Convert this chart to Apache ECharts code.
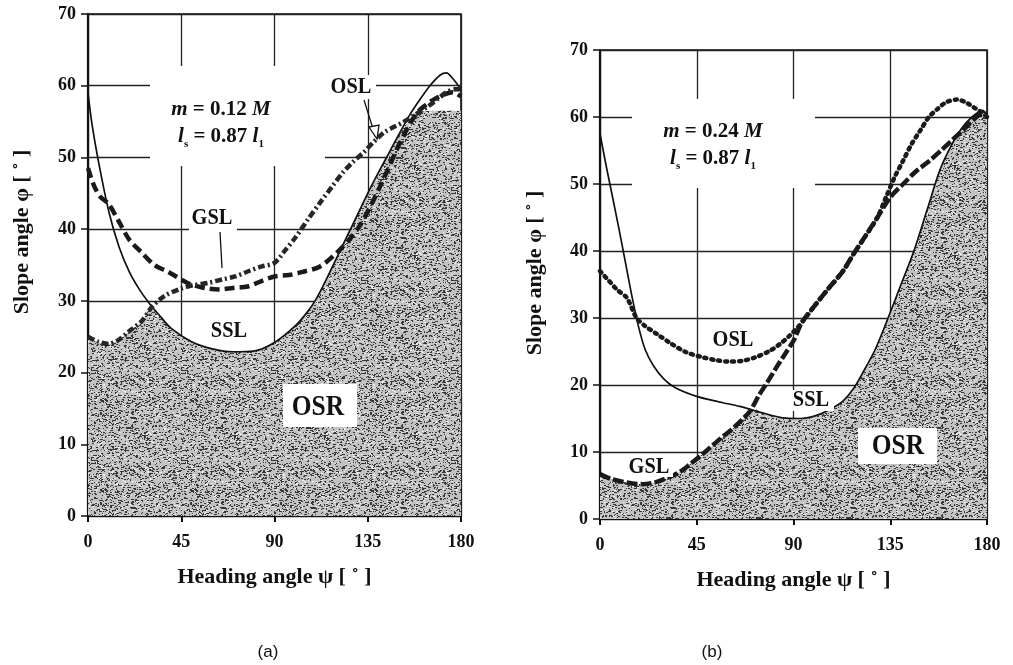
<!doctype html>
<html>
<head>
<meta charset="utf-8">
<title>Slope angle vs heading angle</title>
<script src="https://cdn.jsdelivr.net/npm/echarts/dist/echarts.min.js"></script>
<style>
  html, body { margin: 0; padding: 0; background: #fff; }
  #main { width: 1013px; height: 665px; }
</style>
</head>
<body>
<div id="main"></div>
<script>
// tick labels
var xTicks = [0, 45, 90, 135, 180];
var yTicks = [0, 10, 20, 30, 40, 50, 60, 70];

// (a) m = 0.12 M
var sslA = [[0,59],[2,54.5],[5,49.5],[10,42.5],[15,37.5],[20,34],[25,31.5],[30,29.5],[35,27.8],[40,26.2],[50,24.3],[60,23.3],[70,22.9],[80,23],[90,24.2],[100,26.5],[106,28.5],[110,30.2],[115,33],[120,36],[125,39],[130,42],[135,45],[140,47.8],[145,50.5],[150,53.2],[155,55.8],[160,58],[165,60],[170,61.5],[173,61.8],[176,61],[180,59.5]];
var gslA = [[0,48.5],[3,46],[6,44.5],[10,43.5],[15,41],[20,38.5],[26,36.7],[32,35],[39,34],[48,32.5],[56,31.8],[63,31.6],[70,31.8],[77,32],[84,32.8],[90,33.4],[97,33.6],[103,34],[112,34.8],[120,36.7],[126,38.5],[131,40.4],[136,43],[141,46],[145,48.5],[149,51.1],[154,54],[159,56.3],[163,57.3],[167,58.1],[172,58.8],[176,59.1],[180,58.5]];
var oslA = [[0,25],[5,24.3],[10,24],[15,24.6],[20,25.8],[26,27.2],[31,29.2],[37,30.7],[44,31.6],[51,32.2],[58,32.5],[65,33],[71,33.4],[78,34.2],[84,34.8],[90,35.3],[95,37],[100,38.8],[106,41.3],[112,43.7],[118,46],[123,47.9],[128,49.4],[133,50.7],[138,52.2],[143,53.5],[148,54.3],[152,54.9],[158,56],[164,57.1],[169,58.2],[173,59.1],[177,59.5],[180,59.5]];
var osrA = [[0,25],[5,24.3],[10,24],[15,24.6],[20,25.8],[26,27.2],[30,28.8],[33,28.4],[35,27.8],[40,26.2],[50,24.3],[60,23.3],[70,22.9],[80,23],[90,24.2],[100,26.5],[106,28.5],[110,30.2],[115,33],[120,36],[125,39],[130,42],[135,45],[140,47.8],[145,50.5],[150,53],[155,55.3],[160,56.3],[170,56.5],[180,56.5]];

// (b) m = 0.24 M
var sslB = [[0,57.5],[3,52.5],[6,47.8],[9,43],[12,38],[15,33],[18,28.6],[21,25.3],[25,22.8],[30,20.8],[35,19.6],[45,18.3],[55,17.5],[65,16.8],[75,15.9],[85,15.1],[93,15],[100,15.4],[106,16.2],[113,17.6],[118,19.5],[122,21.7],[128,25.3],[134,30],[140,35],[146,40],[152,46],[158,52],[163,55.5],[168,58.2],[173,60],[178,61],[180,60]];
var gslB = [[0,6.7],[5,6],[10,5.6],[15,5.3],[20,5.2],[26,5.5],[31,6.1],[37,7],[42,8.2],[47,9.5],[51,10.6],[56,12],[61,13.3],[66,14.8],[70,16.2],[74,18.5],[78,20.5],[82,22.6],[86,24.6],[90,26.6],[94,29.4],[100,31.9],[106,34.3],[113,37],[118,39.6],[123,42],[129,45],[135,48],[141,50],[147,51.9],[153,53.4],[159,55.1],[164,56.6],[170,58.4],[176,60.2],[180,60.5]];
var oslB = [[0,37],[4,35.6],[8,34.2],[12.5,33],[17,30],[21,28.8],[26.5,27.6],[33,26.2],[40,24.9],[47,24.2],[54,23.7],[60,23.5],[66,23.6],[72,24.1],[79,25.1],[84,26.2],[88,27.3],[92,28.6],[96,30.2],[100,31.9],[106,34.3],[113,37],[118,39.6],[123,42],[129,45],[133,48],[137,51],[141,53.5],[145,56],[149,58],[153,60],[157,61.2],[161,62.2],[166,62.6],[170,62.2],[174,61.4],[177,60.8],[180,60]];
var osrB = [[0,6.7],[5,6],[10,5.6],[15,5.3],[20,5.2],[26,5.5],[31,6.1],[37,7],[42,8.2],[47,9.5],[51,10.6],[56,12],[61,13.3],[66,14.8],[69,15.9],[72,16.4],[75,15.9],[85,15.1],[93,15],[100,15.4],[106,16.2],[113,17.6],[118,19.5],[122,21.7],[128,25.3],[134,30],[140,35],[146,40],[152,46],[158,52],[163,55.5],[168,58.2],[173,60],[178,61],[180,60]];

var SERIF = "'Liberation Serif', 'DejaVu Serif', serif";

// stipple texture for the OSR region
function makeStipple() {
    var c = document.createElement('canvas');
    c.width = c.height = 90;
    var g = c.getContext('2d');
    g.fillStyle = '#c2c2c2';
    g.fillRect(0, 0, 90, 90);
    var s = 12345;
    function next() { s = (s * 16807) % 2147483647; return s; }
    g.fillStyle = '#383838';
    for (var i = 0; i < 1600; i++) {
        g.fillRect(next() % 90, next() % 90, 1 + next() % 2, 1);
    }
    g.fillStyle = '#ececec';
    for (var j = 0; j < 500; j++) {
        g.fillRect(next() % 90, next() % 90, 1 + next() % 2, 1);
    }
    return c;
}
var stipple = makeStipple();

var chart = echarts.init(document.getElementById('main'), null, { renderer: 'canvas' });

function xAxisOf(idx) {
    return {
        gridIndex: idx, type: 'value', min: 0, max: 180, interval: 45,
        name: 'Heading angle ψ [ ˚ ]', nameLocation: 'middle', nameGap: 50,
        nameTextStyle: { fontFamily: SERIF, fontWeight: 'bold', fontSize: 22, color: '#111' },
        axisLine: { lineStyle: { color: '#111', width: 2.2 } },
        axisTick: { show: true, length: 6, lineStyle: { color: '#111', width: 2 } },
        axisLabel: { margin: 17, fontFamily: SERIF, fontWeight: 'bold', fontSize: 18, color: '#111' },
        splitLine: { show: true, lineStyle: { color: '#222', width: 1.3 } }
    };
}
function yAxisOf(idx) {
    return {
        gridIndex: idx, type: 'value', min: 0, max: 70, interval: 10,
        axisLine: { lineStyle: { color: '#111', width: 2.2 } },
        axisTick: { show: true, length: 7, lineStyle: { color: '#111', width: 1.5 } },
        axisLabel: { margin: 12, fontFamily: SERIF, fontWeight: 'bold', fontSize: 18, color: '#111' },
        splitLine: { show: true, lineStyle: { color: '#222', width: 1.3 } }
    };
}

function areaSeries(idx, data) {
    return {
        type: 'line', xAxisIndex: idx, yAxisIndex: idx, data: data,
        smooth: 0.3, symbol: 'none', z: 1, silent: true,
        lineStyle: { width: 0 },
        areaStyle: { color: { image: stipple, repeat: 'repeat' }, opacity: 1 }
    };
}
function lineSeries(idx, name, data, style) {
    return {
        type: 'line', name: name, xAxisIndex: idx, yAxisIndex: idx, data: data,
        smooth: 0.3, symbol: 'none', z: 3, lineStyle: style
    };
}

function label(text, x, y, size, box) {
    var els = [];
    if (box) {
        els.push({ type: 'rect', z: 50, shape: { x: box[0], y: box[1], width: box[2], height: box[3] }, style: { fill: '#fff' } });
    }
    els.push({
        type: 'text', z: 51, x: x, y: y, scaleX: 0.85,
        style: { text: text, fontFamily: SERIF, fontWeight: 'bold', fontSize: size, fill: '#111', align: 'center', verticalAlign: 'middle' }
    });
    return els;
}

function paramText(x, y, mval) {
    var rich = {
        i: { fontFamily: SERIF, fontStyle: 'italic', fontWeight: 'bold', fontSize: 21, fill: '#111' },
        n: { fontFamily: SERIF, fontWeight: 'bold', fontSize: 21, fill: '#111' },
        sub: { fontFamily: SERIF, fontWeight: 'bold', fontSize: 11, fill: '#111', verticalAlign: 'bottom' }
    };
    return [{
        type: 'text', z: 51, x: x, y: y,
        style: {
            text: '{i|m}{n| = ' + mval + ' }{i|M}\n{i|l}{sub|s}{n| = 0.87 }{i|l}{sub|1}',
            rich: rich, align: 'center', verticalAlign: 'middle', lineHeight: 27
        }
    }];
}

var graphics = [].concat(
    // (a) annotations
    [{ type: 'rect', z: 50, shape: { x: 150, y: 66, width: 175, height: 100 }, style: { fill: '#fff' } }],
    paramText(221, 123, '0.12'),
    label('OSL', 351, 87, 24, [322, 75, 54, 24]),
    [{ type: 'line', z: 52, shape: { x1: 364, y1: 100, x2: 374, y2: 132 }, style: { stroke: '#111', lineWidth: 1.3 } },
     { type: 'polygon', z: 52, shape: { points: [[369, 127], [379, 125], [377, 139]] }, style: { fill: '#fff', stroke: '#111', lineWidth: 1.3 } }],
    label('GSL', 212, 218, 24, [189, 205, 48, 26]),
    [{ type: 'line', z: 52, shape: { x1: 220, y1: 232, x2: 222, y2: 268 }, style: { stroke: '#111', lineWidth: 1.3 } }],
    label('SSL', 229, 331, 24, [205, 318, 49, 25]),
    label('OSR', 318, 407, 30, [283, 384, 74, 43]),
    // (b) annotations
    [{ type: 'rect', z: 50, shape: { x: 632, y: 99, width: 183, height: 89 }, style: { fill: '#fff' } }],
    paramText(713, 145, '0.24'),
    label('OSL', 733, 340, 24, [709, 329, 48, 22]),
    label('SSL', 811, 400, 24, [788, 390, 46, 21]),
    label('GSL', 649, 467, 24, [625, 457, 48, 20]),
    label('OSR', 898, 446, 30, [858, 428, 79, 36]),
    // y-axis titles
    [{ type: 'text', z: 51, x: 22, y: 232, rotation: Math.PI / 2,
       style: { text: 'Slope angle φ [ ˚ ]', fontFamily: SERIF, fontWeight: 'bold', fontSize: 22, fill: '#111', align: 'center', verticalAlign: 'middle' } },
     { type: 'text', z: 51, x: 535, y: 273, rotation: Math.PI / 2,
       style: { text: 'Slope angle φ [ ˚ ]', fontFamily: SERIF, fontWeight: 'bold', fontSize: 22, fill: '#111', align: 'center', verticalAlign: 'middle' } }],
    // captions
    [{ type: 'text', z: 51, x: 268, y: 652, style: { text: '(a)', fontFamily: "'Liberation Sans', Arial, sans-serif", fontSize: 17, fill: '#111', align: 'center', verticalAlign: 'middle' } },
     { type: 'text', z: 51, x: 712, y: 652, style: { text: '(b)', fontFamily: "'Liberation Sans', Arial, sans-serif", fontSize: 17, fill: '#111', align: 'center', verticalAlign: 'middle' } }]
);

var heavyDash = { color: '#1a1a1a', width: 4.5, type: [10, 5], cap: 'butt' };

chart.setOption({
    animation: false,
    backgroundColor: '#fff',
    grid: [
        { left: 88, top: 14, width: 373, height: 502, show: true, borderColor: '#111', borderWidth: 1.6, backgroundColor: 'transparent' },
        { left: 600, top: 50, width: 387, height: 469, show: true, borderColor: '#111', borderWidth: 1.6, backgroundColor: 'transparent' }
    ],
    xAxis: [xAxisOf(0), xAxisOf(1)],
    yAxis: [yAxisOf(0), yAxisOf(1)],
    series: [
        areaSeries(0, osrA),
        lineSeries(0, 'SSL', sslA, { color: '#111', width: 1.7 }),
        lineSeries(0, 'GSL', gslA, heavyDash),
        lineSeries(0, 'OSL', oslA, { color: '#262626', width: 4.5, type: [7, 3, 2, 3] }),
        areaSeries(1, osrB),
        lineSeries(1, 'SSL', sslB, { color: '#111', width: 1.7 }),
        lineSeries(1, 'GSL', gslB, { color: '#1a1a1a', width: 4.5, type: [11, 3] }),
        lineSeries(1, 'OSL', oslB, { color: '#1a1a1a', width: 4.5, type: [2, 5], cap: 'round' })
    ],
    graphic: graphics
});
</script>
</body>
</html>
